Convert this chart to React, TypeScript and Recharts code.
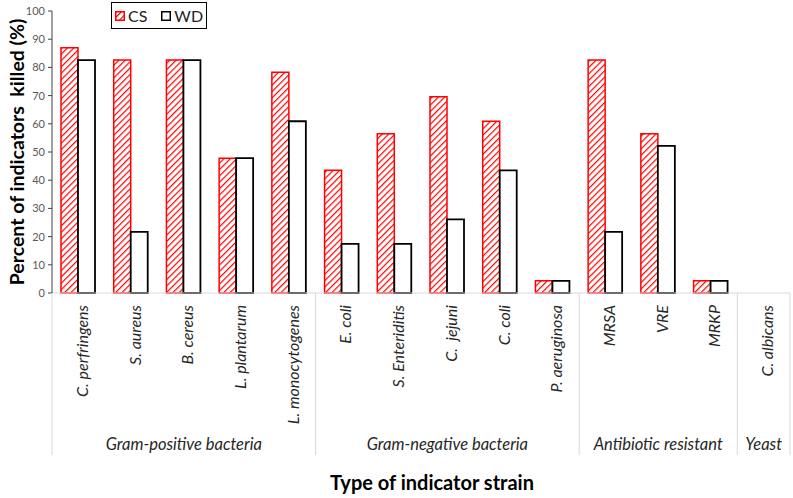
import { Bar, BarChart, Legend, XAxis, YAxis } from "recharts"

const categories = [
  "C. perfringens",
  "S. aureus",
  "B. cereus",
  "L. plantarum",
  "L. monocytogenes",
  "E. coli",
  "S. Enteriditis",
  "C.  jejuni",
  "C. coli",
  "P. aeruginosa",
  "MRSA",
  "VRE",
  "MRKP",
  "C. albicans",
]
const csValues = [87.0, 82.6, 82.6, 47.8, 78.3, 43.5, 56.5, 69.6, 60.9, 4.3, 82.6, 56.5, 4.3, 0]
const wdValues = [82.6, 21.7, 82.6, 47.8, 60.9, 17.4, 17.4, 26.1, 43.5, 4.3, 21.7, 52.2, 4.3, 0]
const groupNames = ["Gram-positive bacteria", "Gram-negative bacteria", "Antibiotic resistant", "Yeast"]
const groupSizes = [5, 5, 3, 1]
const yTicks = [0, 10, 20, 30, 40, 50, 60, 70, 80, 90, 100]

const data = categories.map((name, i) => ({ name, CS: csValues[i], WD: wdValues[i] }))

// group start index and middle index for each group
const groupStarts: number[] = []
const groupMiddles: number[] = []
let acc = 0
groupSizes.forEach((n) => {
  groupStarts.push(acc)
  groupMiddles.push(acc + Math.floor(n / 2))
  acc += n
})

const FONT = "Lato, 'Open Sans', sans-serif"

function CategoryTick(props: any) {
  const { x, y, payload } = props
  const idx = categories.indexOf(payload.value)
  const half = payload.offset ?? (738 / 14) / 2
  const g = groupMiddles.indexOf(idx)
  return (
    <g>
      <text
        x={x + 3}
        y={y + 12}
        transform={`rotate(-90, ${x + 3}, ${y + 12})`}
        textAnchor="end"
        dominantBaseline="central"
        fontStyle="italic"
        fontSize={16}
        fontFamily={FONT}
        fill="#262626"
        style={{ whiteSpace: "pre" }}
      >
        {payload.value}
      </text>
      {groupStarts.includes(idx) && (
        <line x1={x - half} x2={x - half} y1={y} y2={y + 162} stroke="#d9d9d9" strokeWidth={1} />
      )}
      {idx === categories.length - 1 && (
        <line x1={x + half} x2={x + half} y1={y} y2={y + 162} stroke="#d9d9d9" strokeWidth={1} />
      )}
      {g >= 0 && (
        <text
          x={x}
          y={y + 157}
          textAnchor="middle"
          fontStyle="italic"
          fontSize={16.5}
          fontFamily={FONT}
          fill="#262626"
        >
          {groupNames[g]}
        </text>
      )}
    </g>
  )
}

function LegendBox() {
  return (
    <div
      style={{
        width: 94,
        height: 25,
        border: "1px solid #000",
        background: "#fff",
        display: "flex",
        alignItems: "center",
        justifyContent: "center",
        gap: 14,
        fontFamily: FONT,
        fontSize: 16,
        color: "#222",
      }}
    >
      <span style={{ display: "flex", alignItems: "center", gap: 3 }}>
        <svg width={10} height={10}>
          <rect x={0.75} y={0.75} width={8.5} height={8.5} fill="url(#csHatch)" stroke="#ff0000" strokeWidth={1.5} />
        </svg>
        CS
      </span>
      <span style={{ display: "flex", alignItems: "center", gap: 3 }}>
        <svg width={10} height={10}>
          <rect x={0.75} y={0.75} width={8.5} height={8.5} fill="#fff" stroke="#000" strokeWidth={1.5} />
        </svg>
        WD
      </span>
    </div>
  )
}

export default function App() {
  return (
    <div style={{ position: "absolute", left: 0, top: 0, background: "#fff" }}>
      <BarChart
        width={793}
        height={498}
        data={data}
        margin={{ top: 11, right: 3, left: 0, bottom: 10 }}
        barGap={0}
      >
        <defs>
          <pattern id="csHatch" patternUnits="userSpaceOnUse" width={4.5} height={4.5} patternTransform="rotate(45)">
            <rect width={4.5} height={4.5} fill="#fff" />
            <line x1={0} y1={0} x2={0} y2={4.5} stroke="#ff0000" strokeWidth={2.4} />
          </pattern>
        </defs>
        <XAxis
          dataKey="name"
          interval={0}
          height={195}
          tickSize={0}
          tickMargin={0}
          tickLine={false}
          axisLine={{ stroke: "#d9d9d9" }}
          tick={<CategoryTick />}
          label={{
            content: (p: any) => {
              const vb = p.viewBox
              return (
                <text
                  x={vb.x + vb.width / 2 + 11}
                  y={490}
                  textAnchor="middle"
                  fontSize={20}
                  fontWeight="bold"
                  fontFamily={FONT}
                  fill="#000"
                >
                  Type of indicator strain
                </text>
              )
            },
          }}
        />
        <YAxis
          width={52}
          domain={[0, 100]}
          ticks={yTicks}
          tickSize={4}
          tickMargin={3}
          axisLine={{ stroke: "#404040" }}
          tickLine={{ stroke: "#404040" }}
          tick={{ fontSize: 11, fontFamily: FONT, fill: "#595959" }}
          label={{
            content: (p: any) => {
              const vb = p.viewBox
              const cy = vb.y + vb.height / 2
              return (
                <text
                  x={16}
                  y={cy}
                  transform={`rotate(-90, 16, ${cy})`}
                  textAnchor="middle"
                  dominantBaseline="central"
                  fontSize={19.5}
                  fontWeight="bold"
                  fontFamily={FONT}
                  fill="#000"
                  style={{ whiteSpace: "pre" }}
                >
                  Percent of indicators  killed (%)
                </text>
              )
            },
          }}
        />
        <Legend
          layout="vertical"
          align="center"
          verticalAlign="middle"
          content={<LegendBox />}
          wrapperStyle={{ position: "absolute", left: 111, top: 2, width: "auto", height: "auto" }}
        />
        <Bar dataKey="CS" fill="url(#csHatch)" stroke="#ff0000" strokeWidth={1.5} barSize={17} isAnimationActive={false} />
        <Bar dataKey="WD" fill="#fff" stroke="#000" strokeWidth={1.8} barSize={17} isAnimationActive={false} />
      </BarChart>
    </div>
  )
}
